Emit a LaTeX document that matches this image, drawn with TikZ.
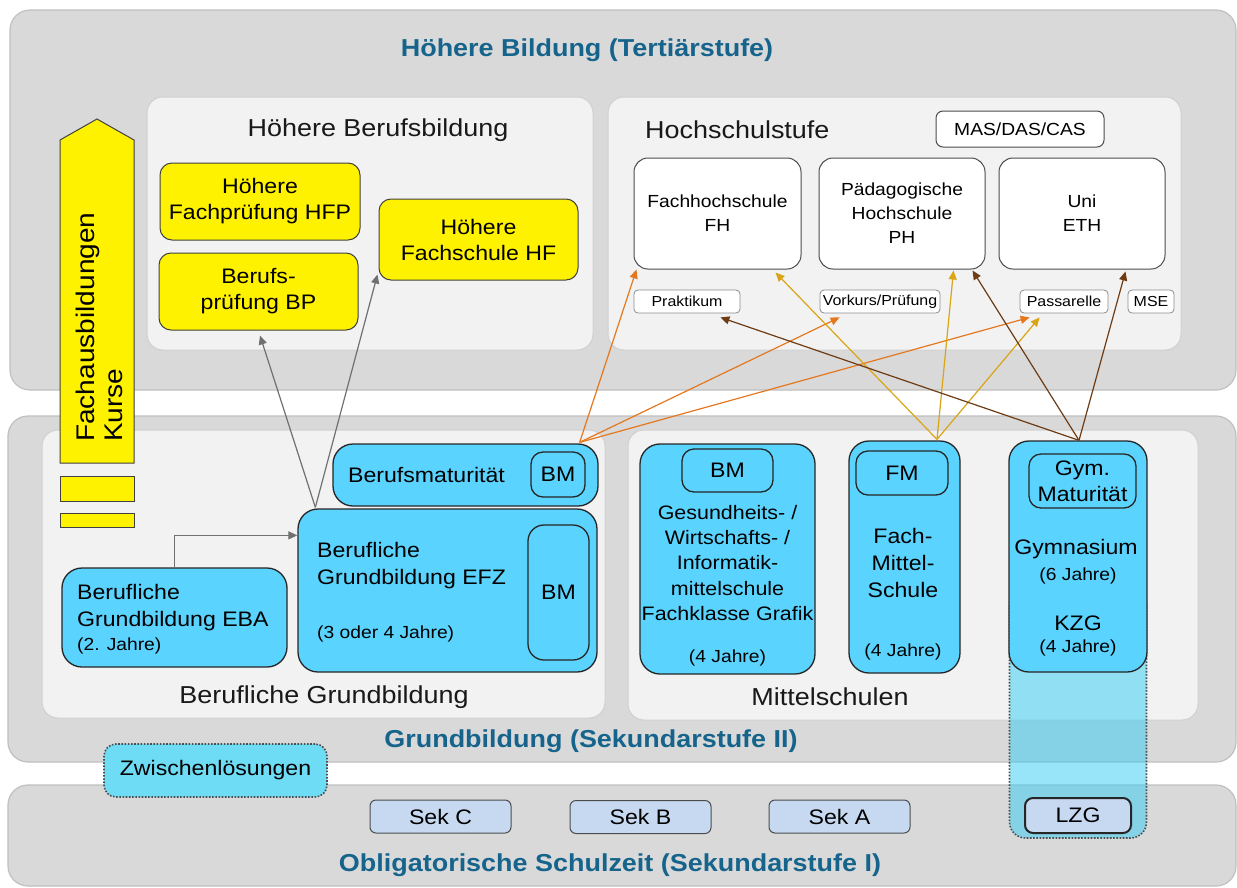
\documentclass[tikz,border=0pt]{standalone}
\usepackage{fontspec}
\setmainfont{Liberation Sans}[FakeStretch=1.1]
\usetikzlibrary{positioning}
\usetikzlibrary{calc}
\usetikzlibrary{arrows.meta}

\definecolor{zonegray}{RGB}{217,217,217}
\definecolor{zoneline}{RGB}{192,192,192}
\definecolor{areagray}{RGB}{242,242,242}
\definecolor{arealine}{RGB}{208,208,208}
\definecolor{titleblue}{RGB}{22,100,140}
\definecolor{schoolblue}{RGB}{90,212,255}
\definecolor{sekblue}{RGB}{198,217,240}
\definecolor{zwblue}{RGB}{110,220,245}
\definecolor{colblue}{RGB}{50,205,245}
\definecolor{pathorange}{RGB}{228,120,30}
\definecolor{pathgold}{RGB}{218,164,22}
\definecolor{pathbrown}{RGB}{110,60,20}
\definecolor{pathgray}{RGB}{112,112,112}

\begin{document}
\begin{tikzpicture}[
x=1pt, y=-1pt,
zone/.style={rectangle, rounded corners=20pt, fill=zonegray, draw=zoneline, line width=1.2pt, inner sep=0},
area/.style={rectangle, rounded corners=16pt, fill=areagray, draw=arealine, line width=1pt, inner sep=0},
ztitle/.style={font=\fontsize{24.5}{28}\selectfont\bfseries, text=titleblue, inner sep=0},
atitle/.style={font=\fontsize{24.5}{28}\selectfont, text=black!90, inner sep=0},
hsnode/.style={rectangle, rounded corners=14pt, fill=white, draw=black!70, line width=1pt, align=center, inner sep=0, font=\fontsize{17.5}{24}\selectfont},
tagnode/.style={rectangle, rounded corners=4pt, fill=white, draw=black!45, line width=0.8pt, inner sep=0, font=\fontsize{14.5}{16}\selectfont},
hbnode/.style={rectangle, rounded corners=12pt, fill=yellow, draw=black!75, line width=1pt, align=center, inner sep=0, font=\fontsize{21}{26}\selectfont},
kursbar/.style={rectangle, fill=yellow, draw=black!75, line width=1pt, inner sep=0},
bluenode/.style={rectangle, rounded corners=20pt, fill=schoolblue, draw=black!85, line width=1.3pt, inner sep=0},
bmnode/.style={rectangle, rounded corners=12pt, fill=schoolblue, draw=black!85, line width=1.3pt, align=center, inner sep=0, font=\fontsize{21}{26}\selectfont},
txt/.style={font=\fontsize{21}{27}\selectfont, align=center, inner sep=0},
smalltxt/.style={font=\fontsize{17.5}{20}\selectfont, inner sep=0},
colnode/.style={rectangle, rounded corners=16pt, fill=colblue, fill opacity=0.5, draw=black!70, draw opacity=1, line width=1.6pt, dash pattern=on 1.6pt off 1.6pt, inner sep=0},
zwnode/.style={rectangle, rounded corners=12pt, fill=zwblue, draw=black!70, line width=1.6pt, dash pattern=on 1.6pt off 1.6pt, inner sep=0, font=\fontsize{21}{24}\selectfont},
seknode/.style={rectangle, rounded corners=6pt, fill=sekblue, draw=black!70, line width=1pt, inner sep=0, font=\fontsize{21}{24}\selectfont},
grayline/.style={draw=pathgray, line width=1.2pt, -{Triangle[length=9pt,width=8pt]}},
orangeline/.style={draw=pathorange, line width=1.2pt, -{Triangle[length=9pt,width=8pt]}},
goldline/.style={draw=pathgold, line width=1.2pt, -{Triangle[length=9pt,width=8pt]}},
brownline/.style={draw=pathbrown, line width=1.2pt, -{Triangle[length=9pt,width=8pt]}}
]

\fill[white] (0,0) rectangle (1237,887);
\useasboundingbox (0,0) rectangle (1237,887);

%Zones
\node[zone, minimum width=1226, minimum height=380] (tert) at (623,200) {};
\node[zone, minimum width=1228, minimum height=346] (sek2) at (622,589) {};
\node[zone, minimum width=1228, minimum height=101] (sek1) at (622,835.5) {};
\node[ztitle] (tertlabel) at (587,50) {Höhere Bildung (Tertiärstufe)};
\node[ztitle] (sek2label) at (591,741) {Grundbildung (Sekundarstufe II)};
\node[ztitle] (sek1label) at (610,865) {Obligatorische Schulzeit (Sekundarstufe I)};

%Areas
\node[area, minimum width=446, minimum height=253] (hbb) at (370,223.5) {};
\node[area, minimum width=573, minimum height=253] (hss) at (894.5,223.5) {};
\node[area, minimum width=563, minimum height=288] (bgb) at (323.5,574) {};
\node[area, minimum width=570, minimum height=290] (msch) at (913,575) {};
\node[atitle] (hbblabel) at (378,130) {Höhere Berufsbildung};
\node[atitle, anchor=west] (hsslabel) at (645,130) {Hochschulstufe};
\node[atitle] (bgblabel) at (324,697) {Berufliche Grundbildung};
\node[atitle] (mschlabel) at (830,697) {Mittelschulen};

%Hochschulen
\node[hsnode, minimum width=168, minimum height=36, rounded corners=7pt] (mas) at (1020,129) {MAS/DAS/CAS};
\node[hsnode, minimum width=167, minimum height=111] (fh) at (717.5,213.5) {Fachhochschule\\FH};
\node[hsnode, minimum width=166, minimum height=111] (ph) at (902,213.5) {Pädagogische\\Hochschule\\PH};
\node[hsnode, minimum width=166, minimum height=111] (uni) at (1082,213.5) {Uni\\ETH};
\node[tagnode, minimum width=106, minimum height=23] (prak) at (687,301.5) {Praktikum};
\node[tagnode, minimum width=120, minimum height=23] (vork) at (880,301.5) {Vorkurs/Prüfung};
\node[tagnode, minimum width=88, minimum height=23] (pass) at (1064,301.5) {Passarelle};
\node[tagnode, minimum width=46, minimum height=23] (mse) at (1151,301.5) {MSE};

%Hoehere Berufsbildung
\node[hbnode, minimum width=200, minimum height=77] (hfp) at (260,201.5) {Höhere\\Fachprüfung HFP};
\node[hbnode, minimum width=199, minimum height=77] (bp) at (258.5,291.5) {Berufs-\\prüfung BP};
\node[hbnode, minimum width=199, minimum height=81] (hf) at (478.5,239.5) {Höhere\\Fachschule HF};
\draw[fill=yellow, draw=black!75, line width=1pt] (60,463) -- (60,140) -- (97,119) -- (134,140) -- (134,463) -- cycle;
\node[rotate=90, anchor=west, align=left, inner sep=0, font=\fontsize{25.5}{28}\selectfont] (kurse) at (99,442) {Fachausbildungen\\Kurse};
\node[kursbar, minimum width=74, minimum height=25] (bar1) at (97,488.5) {};
\node[kursbar, minimum width=74, minimum height=14] (bar2) at (97,520) {};

%LZG column
\node[colnode, minimum width=137, minimum height=250] (lzgcol) at (1078,713) {};

%Berufliche Grundbildung
\node[bluenode, minimum width=265, minimum height=62] (bm) at (465.5,475) {};
\node[txt, anchor=west] (bmtext) at (348,475) {Berufsmaturität};
\node[bmnode, minimum width=54, minimum height=45] (bminner) at (558,474.5) {BM};
\node[bluenode, minimum width=299, minimum height=163] (efz) at (447.5,590.5) {};
\node[txt, anchor=west, align=left] (efztext) at (317,566) {Berufliche\\Grundbildung EFZ};
\node[smalltxt, anchor=west] (efzyears) at (317,634) {(3 oder 4 Jahre)};
\node[bmnode, minimum width=61, minimum height=135, rounded corners=16pt] (efzbm) at (558.5,592.5) {BM};
\node[bluenode, minimum width=225, minimum height=99] (eba) at (174.5,617.5) {};
\node[txt, anchor=west, align=left] (ebatext) at (77,608) {Berufliche\\Grundbildung EBA};
\node[smalltxt, anchor=west] (ebayears) at (77,646) {(2. Jahre)};

%Mittelschulen
\node[bluenode, minimum width=175, minimum height=230] (gwi) at (727.5,559) {};
\node[bmnode, minimum width=91, minimum height=43] (gwibm) at (727.5,470.5) {BM};
\node[txt, font=\fontsize{19.5}{25.3}\selectfont] (gwitext) at (727.5,563) {Gesundheits- /\\Wirtschafts- /\\Informatik-\\mittelschule\\Fachklasse Grafik};
\node[smalltxt] (gwiyears) at (727.5,658) {(4 Jahre)};
\node[bluenode, minimum width=111, minimum height=232] (fms) at (904.5,557) {};
\node[bmnode, minimum width=92, minimum height=44] (fmsfm) at (902,473) {FM};
\node[txt] (fmstext) at (903,563) {Fach-\\Mittel-\\Schule};
\node[smalltxt] (fmsyears) at (903,652) {(4 Jahre)};
\node[bluenode, minimum width=138, minimum height=231] (gym) at (1078,556.5) {};
\node[bmnode, minimum width=107, minimum height=54] (gymmat) at (1082.5,481) {Gym.\\Maturität};
\node[txt] (gymtext) at (1076,549) {Gymnasium};
\node[smalltxt] (gym6) at (1078,576) {(6 Jahre)};
\node[txt] (kzg) at (1078,623) {KZG};
\node[smalltxt] (kzg4) at (1078,648) {(4 Jahre)};

%Sekundarstufe I
\node[zwnode, minimum width=223, minimum height=53] (zwl) at (215.5,770.5) {Zwischenlösungen};
\node[seknode, minimum width=141, minimum height=33] (sekc) at (440.5,816.5) {Sek C};
\node[seknode, minimum width=141, minimum height=33] (sekb) at (640.5,817) {Sek B};
\node[seknode, minimum width=141, minimum height=33] (seka) at (839.5,816.5) {Sek A};
\node[seknode, minimum width=106, minimum height=35, line width=2pt, draw=black!85, rounded corners=8pt] (lzg) at (1078,815.5) {LZG};

%Coordinates
\coordinate (efzout) at ($(efz.north west)+(18,-1)$);
\coordinate (bmout) at ($(bm.north east)+(-19,-1)$);
\coordinate (fmsout) at ($(fms.north)+(32.5,-1)$);
\coordinate (gymout) at ($(gym.north)+(1,0)$);

%Lines
\draw[grayline] (eba.north) |- ($(efz.north west)+(0,27)$);
\draw[grayline] (efzout) -- ($(bp.south)+(1.5,5)$);
\draw[grayline] (efzout) -- ($(hf.south west)+(-1,-6)$);

\draw[orangeline] (bmout) -- ($(fh.south west)+(3,0)$);
\draw[orangeline] (bmout) -- ($(vork.south west)+(20,4)$);
\draw[orangeline] (bmout) -- ($(pass.south west)+(10,4)$);

\draw[goldline] (fmsout) -- ($(fh.south east)+(-26,3)$);
\draw[goldline] (fmsout) -- ($(ph.south east)+(-32,1)$);
\draw[goldline] (fmsout) -- ($(pass.south west)+(20,4)$);

\draw[brownline] (gymout) -- ($(prak.south east)+(-20,4)$);
\draw[brownline] (gymout) -- ($(ph.south east)+(-13,1)$);
\draw[brownline] (gymout) -- ($(uni.south east)+(-40,2)$);

\end{tikzpicture}
\end{document}
